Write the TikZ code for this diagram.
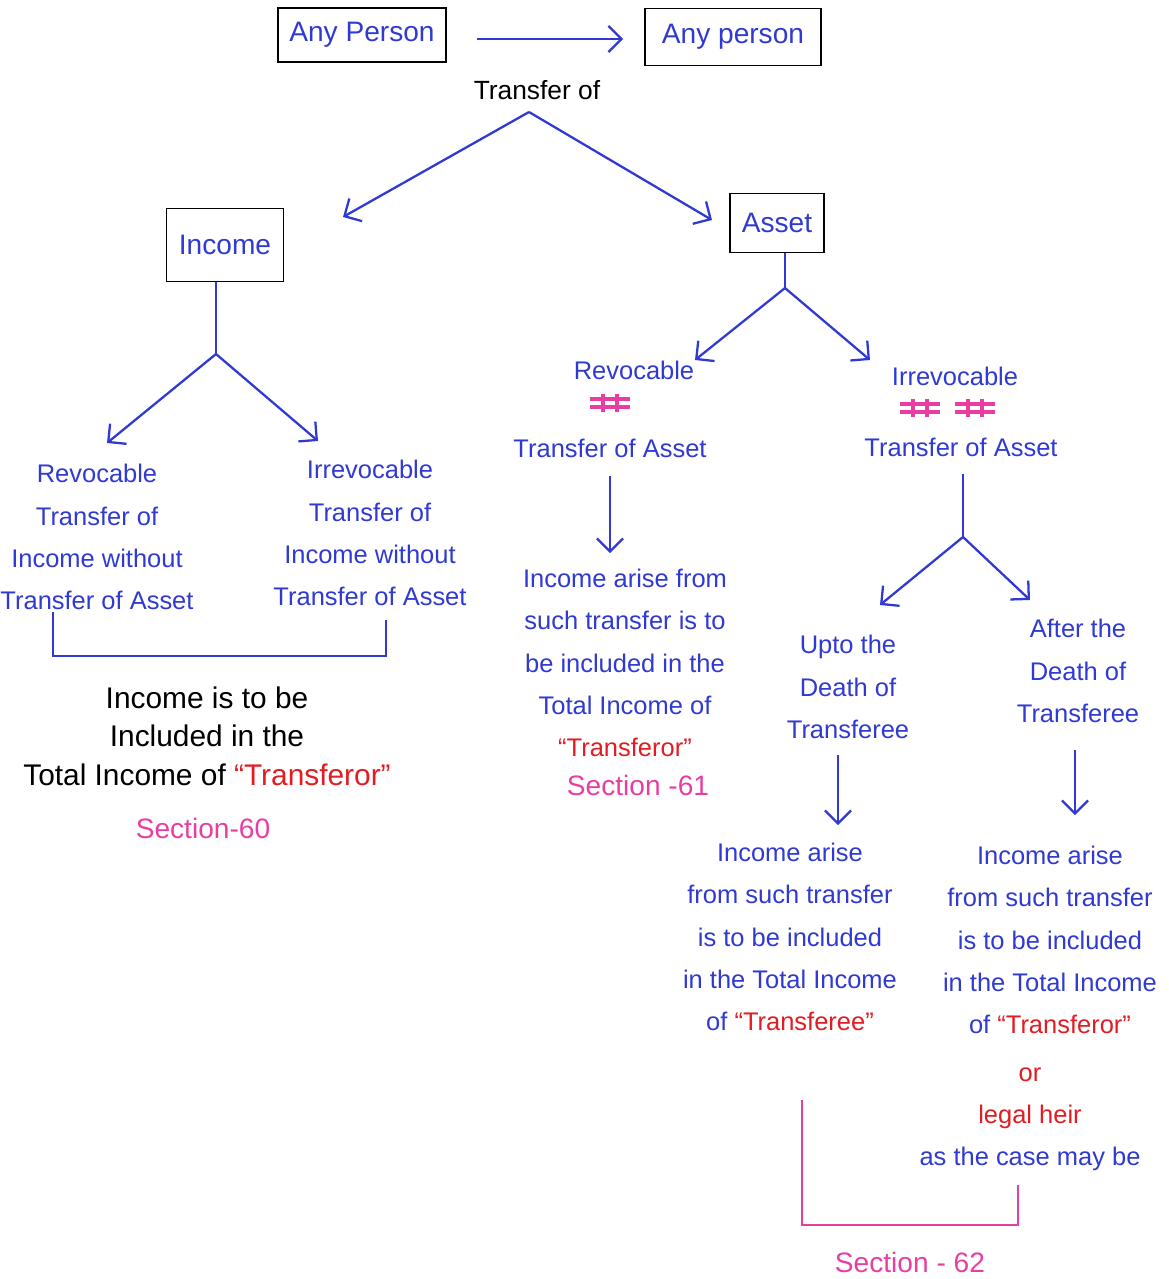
\documentclass[tikz,border=0pt]{standalone}
\usepackage{fontspec}
\setmainfont{Liberation Sans}
\usepackage{xcolor}
\usetikzlibrary{arrows.meta,positioning}
\definecolor{penblue}{RGB}{48,58,210}
\definecolor{penred}{RGB}{225,28,34}
\definecolor{penpink}{RGB}{232,62,162}
\tikzset{
    neqmark/.pic={
        \draw [penpink, line width=2pt] (-20,-4) -- (20,-4) (-20,4) -- (20,4)
            (-7,-9) -- (-7,9) (7,-9) -- (7,9);
    },
}

\begin{document}
\begin{tikzpicture}[
    x=0.02cm, y=-0.02cm,
    every node/.style={font=\fontsize{14.5}{24}\selectfont, align=center, inner sep=0pt},
    box/.style={draw=black, line width=1.1pt, text=penblue, font=\fontsize{16}{20}\selectfont},
    handtext/.style={text=penblue},
    conn/.style={penblue, line width=1.3pt},
    arr/.style={conn, -{Straight Barb[length=2.6mm,width=5.2mm]}},
    sectionlabel/.style={text=penpink, font=\fontsize{16}{20}\selectfont},
]
\useasboundingbox (0,0) rectangle (1169,1279);
\node [box, minimum width=3.36cm, minimum height=1.08cm] (giver) at (362,35) {Any Person};
\node [box, minimum width=3.52cm, minimum height=1.14cm] (taker) at (733,37) {Any person};
\draw [arr] ([xshift=0.6cm,yshift=-0.08cm]giver.east) -- ([xshift=-0.42cm,yshift=-0.08cm]giver.east -| taker.west);
\node [font=\fontsize{15}{18}\selectfont] (transfer) at (537,90) {Transfer of};
\coordinate (apex) at (529,112);
\node [box, minimum width=2.34cm, minimum height=1.46cm] (income) at (225,245) {Income};
\node [box, minimum width=1.88cm, minimum height=1.18cm] (asset) at (777,223) {Asset};
\coordinate (incometip) at (343,217);
\coordinate (assettip) at (712,220);
\draw [arr] (apex) -- (incometip);
\draw [arr] (apex) -- (assettip);

\coordinate (incfork) at (216,354);
\coordinate (increvtip) at (107,443);
\coordinate (incirrtip) at (318,441);
\draw [conn] (incfork |- income.south) -- (incfork);
\draw [arr] (incfork) -- (increvtip);
\draw [arr] (incfork) -- (incirrtip);
\node [handtext] (increv) at (97,537) {Revocable\\Transfer of\\Income without\\Transfer of Asset};
\node [handtext] (incirr) at (370,533) {Irrevocable\\Transfer of\\Income without\\Transfer of Asset};
\coordinate (bracketl) at (53,612);
\coordinate (bracketr) at (386,620);
\coordinate (bracketb) at (386,656);
\draw [conn] (bracketl) |- (bracketb) -- (bracketr);
\node [font=\fontsize{17}{22}\selectfont] (incrule) at (207,736) {Income is to be\\Included in the\\Total Income of \textcolor{penred}{“Transferor”}};
\node [sectionlabel] (sec60) at (203,828) {Section-60};

\coordinate (assfork) at (785,288);
\coordinate (assrevtip) at (695,360);
\coordinate (assirrtip) at (870,360);
\draw [conn] (assfork |- asset.south) -- (assfork);
\draw [arr] (assfork) -- (assrevtip);
\draw [arr] (assfork) -- (assirrtip);
\node [handtext] (assrev) at (634,370) {Revocable};
\pic at (610,403) {neqmark};
\node [handtext] (assrevt) at (610,448) {Transfer of Asset};
\node [handtext] (rule61) at (625,663) {Income arise from\\such transfer is to\\be included in the\\Total Income of\\\textcolor{penred}{“Transferor”}};
\coordinate (revdown) at (610,476);
\coordinate (revdowntip) at (610,553);
\draw [arr] (revdown) -- (revdowntip);
\node [sectionlabel] (sec61) at (638,785) {Section -61};

\node [handtext] (assirr) at (955,376) {Irrevocable};
\pic at (920,408) {neqmark};
\pic at (975,408) {neqmark};
\node [handtext] (assirrt) at (961,447) {Transfer of Asset};
\coordinate (irrtop) at (963,474);
\coordinate (irrfork) at (963,537);
\coordinate (uptotip) at (880,605);
\coordinate (aftertip) at (1030,600);
\draw [conn] (irrtop) -- (irrfork);
\draw [arr] (irrfork) -- (uptotip);
\draw [arr] (irrfork) -- (aftertip);
\node [handtext] (upto) at (848,687) {Upto the\\Death of\\Transferee};
\node [handtext] (after) at (1078,671) {After the\\Death of\\Transferee};
\node [handtext] (rule62a) at (790,937) {Income arise\\from such transfer\\is to be included\\in the Total Income\\of \textcolor{penred}{“Transferee”}};
\node [handtext] (rule62b) at (1050,940) {Income arise\\from such transfer\\is to be included\\in the Total Income\\of \textcolor{penred}{“Transferor”}};
\coordinate (uptodown) at (838,755);
\coordinate (uptodowntip) at (838,825);
\coordinate (afterdown) at (1075,750);
\coordinate (afterdowntip) at (1075,815);
\draw [arr] (uptodown) -- (uptodowntip);
\draw [arr] (afterdown) -- (afterdowntip);
\node [handtext] (heir) at (1030,1119) {\textcolor{penred}{or}\\\textcolor{penred}{legal heir}\\as the case may be};
\coordinate (pinkl) at (802,1100);
\coordinate (pinkb) at (1018,1225);
\coordinate (pinkr) at (1018,1185);
\draw [penpink, line width=1.3pt] (pinkl) |- (pinkb) -- (pinkr);
\node [sectionlabel] (sec62) at (910,1262) {Section - 62};
\end{tikzpicture}
\end{document}
